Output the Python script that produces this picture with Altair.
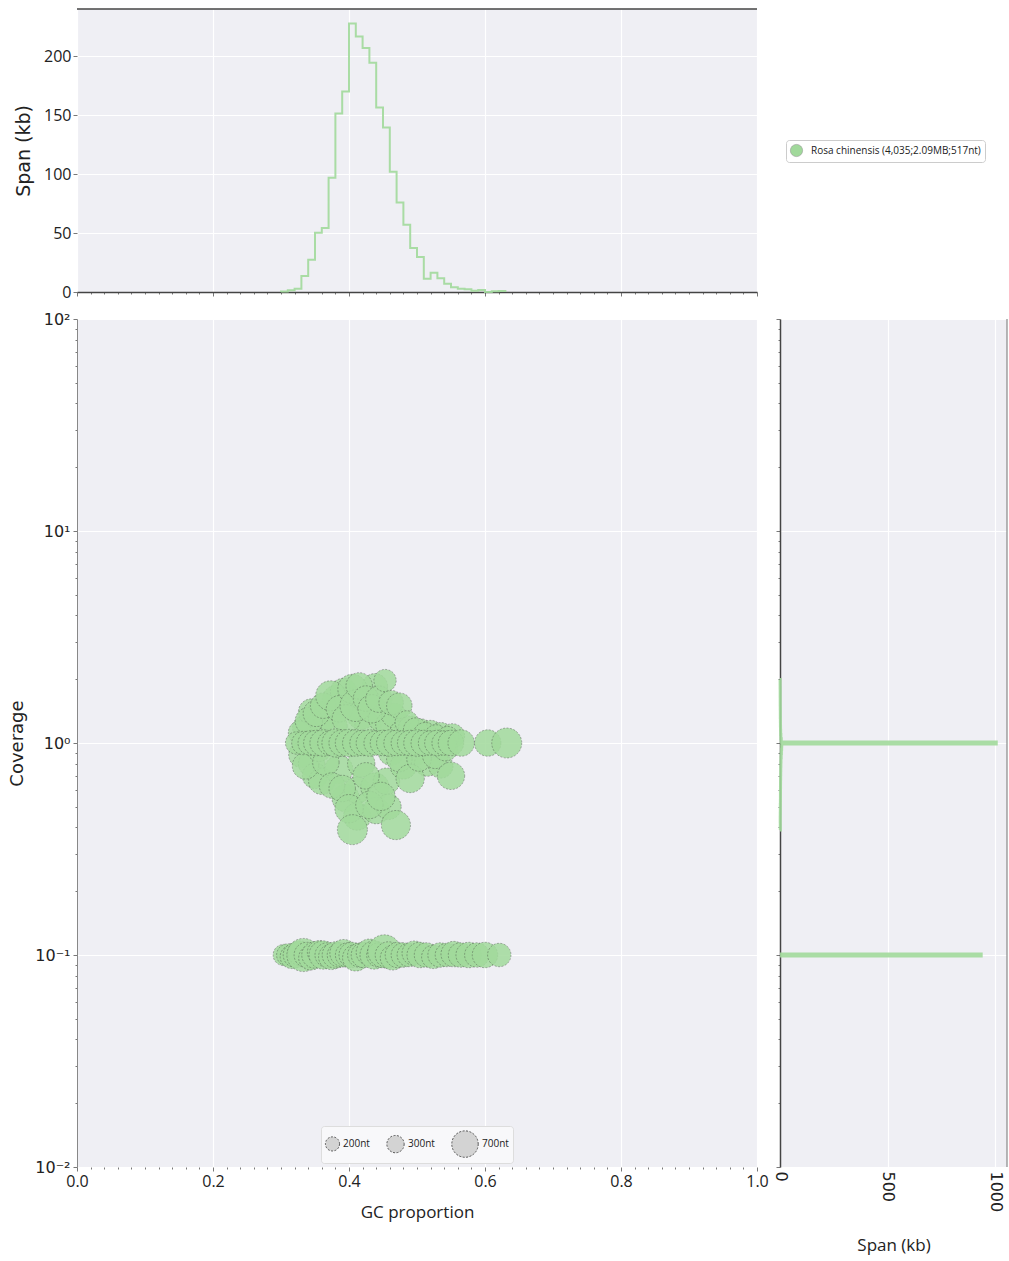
import altair as alt
import pandas as pd

# ---------------- data ----------------
# top histogram: span (kb) per GC bin (bin width 0.01)
gc_bin_lo = [0.30, 0.31, 0.32, 0.33, 0.34, 0.35, 0.36, 0.37, 0.38, 0.39,
             0.40, 0.41, 0.42, 0.43, 0.44, 0.45, 0.46, 0.47, 0.48, 0.49,
             0.50, 0.51, 0.52, 0.53, 0.54, 0.55, 0.56, 0.57, 0.58, 0.59,
             0.60, 0.61, 0.62]
gc_span_kb = [0.5, 1.4, 2.8, 13.6, 27.4, 50.3, 54.2, 96.9, 151.4, 170.0,
              227.7, 216.7, 207.0, 194.4, 156.5, 139.6, 102.0, 76.0, 57.0, 37.3,
              29.7, 11.3, 16.4, 11.6, 7.1, 4.0, 2.8, 2.3, 1.1, 1.7,
              0.0, 0.6, 0.8]

# right histogram: span (kb) per log10(coverage) bin
cov_bin_log_lo = [-1.005, -0.41, -0.39, -0.37, -0.35, -0.33, -0.31, -0.29, -0.27, -0.25,
                  -0.23, -0.21, -0.19, -0.17, -0.15, -0.13, -0.11, -0.09, -0.07, -0.05,
                  -0.03, -0.015, -0.005, 0.005, 0.02, 0.04, 0.06, 0.08, 0.10, 0.12,
                  0.14, 0.16, 0.18, 0.20, 0.22, 0.24, 0.26, 0.28]
cov_bin_log_hi = [-0.995, -0.39, -0.37, -0.35, -0.33, -0.31, -0.29, -0.27, -0.25, -0.23,
                  -0.21, -0.19, -0.17, -0.15, -0.13, -0.11, -0.09, -0.07, -0.05, -0.03,
                  -0.015, -0.005, 0.005, 0.02, 0.04, 0.06, 0.08, 0.10, 0.12, 0.14,
                  0.16, 0.18, 0.20, 0.22, 0.24, 0.26, 0.28, 0.30]
cov_span_kb = [935.0, 1.5, 1.2, 1.0, 1.2, 1.5, 1.4, 1.8, 2.0, 2.0,
               2.2, 2.5, 2.6, 3.0, 3.2, 3.5, 4.0, 4.5, 5.5, 6.5,
               7.5, 8.0, 1005.0, 6.0, 4.0, 3.0, 2.5, 2.0, 1.8, 1.5,
               1.5, 1.2, 1.0, 1.0, 0.8, 0.8, 0.6, 0.5]

# blob scatter: contigs (GC, coverage, length nt)
contig_gc = [
    # coverage ~0.1 band
    0.304, 0.310, 0.316, 0.322, 0.328, 0.333, 0.338, 0.344, 0.350, 0.356,
    0.362, 0.368, 0.374, 0.380, 0.386, 0.392, 0.398, 0.404, 0.410, 0.416,
    0.422, 0.430, 0.437, 0.444, 0.452, 0.458, 0.464, 0.472, 0.480, 0.488,
    0.496, 0.504, 0.514, 0.524, 0.534, 0.544, 0.554, 0.564, 0.576, 0.588,
    0.600, 0.621,
    # coverage ~1 cluster, upper part
    0.335, 0.345, 0.356, 0.368, 0.378, 0.382, 0.392, 0.400, 0.418, 0.428,
    0.438, 0.448, 0.458, 0.466, 0.478, 0.490, 0.505, 0.520, 0.535, 0.552,
    0.328, 0.341, 0.352, 0.362, 0.373, 0.386, 0.396, 0.405, 0.410, 0.415,
    0.425, 0.434, 0.444, 0.453, 0.462, 0.474, 0.485, 0.498, 0.512, 0.528,
    0.545,
    # lower part
    0.330, 0.345, 0.350, 0.360, 0.385, 0.395, 0.412, 0.418, 0.438, 0.455,
    0.462, 0.480, 0.500, 0.515, 0.535, 0.412, 0.440, 0.458,
    0.336, 0.356, 0.366, 0.375, 0.390, 0.400, 0.405, 0.425, 0.430, 0.447,
    0.469, 0.474, 0.490, 0.503, 0.527, 0.542, 0.550,
    # main row at coverage 1
    0.323, 0.333, 0.343, 0.352, 0.362, 0.372, 0.381, 0.390, 0.400, 0.410,
    0.420, 0.430, 0.440, 0.450, 0.460, 0.470, 0.480, 0.490, 0.500, 0.510,
    0.520, 0.530, 0.540, 0.550, 0.565, 0.604, 0.632,
]
contig_cov = [
    0.100, 0.100, 0.098, 0.100, 0.102, 0.100, 0.100, 0.097, 0.100, 0.103,
    0.100, 0.100, 0.098, 0.100, 0.100, 0.102, 0.100, 0.100, 0.097, 0.100,
    0.100, 0.103, 0.100, 0.100, 0.104, 0.100, 0.097, 0.100, 0.100, 0.100,
    0.102, 0.100, 0.100, 0.098, 0.100, 0.100, 0.101, 0.100, 0.100, 0.100,
    0.100, 0.100,
    1.18, 1.40, 1.22, 1.35, 1.20, 1.60, 1.75, 1.55, 1.35, 1.20,
    1.85, 1.30, 1.22, 1.35, 1.12, 1.18, 1.14, 1.12, 1.10, 1.08,
    1.12, 1.27, 1.38, 1.50, 1.67, 1.45, 1.30, 1.80, 1.50, 1.86,
    1.62, 1.45, 1.61, 1.97, 1.55, 1.50, 1.25, 1.15, 1.10, 1.08,
    1.06,
    0.88, 0.80, 0.70, 0.66, 0.75, 0.55, 0.60, 0.80, 0.62, 0.66,
    0.90, 0.78, 0.90, 0.80, 0.78, 0.45, 0.48, 0.50,
    0.78, 0.94, 0.81, 0.63, 0.61, 0.49, 0.39, 0.70, 0.51, 0.56,
    0.41, 0.84, 0.68, 0.84, 0.87, 0.94, 0.70,
    1.0, 1.0, 1.0, 1.0, 1.0, 1.0, 1.0, 1.0, 1.0, 1.0,
    1.0, 1.0, 1.0, 1.0, 1.0, 1.0, 1.0, 1.0, 1.0, 1.0,
    1.0, 1.0, 1.0, 1.0, 1.0, 1.0, 1.0,
]
contig_len = [
    450, 500, 550, 650, 600, 1100, 650, 600, 700, 550,
    800, 600, 650, 700, 600, 750, 600, 650, 700, 600,
    650, 700, 800, 600, 1100, 700, 600, 650, 600, 550,
    600, 650, 600, 550, 600, 550, 650, 600, 650, 600,
    650, 550,
    600, 700, 650, 800, 700, 850, 700, 900, 800, 700,
    650, 700, 650, 600, 600, 550, 600, 600, 550, 600,
    550, 750, 700, 650, 900, 700, 800, 850, 1000, 700,
    650, 800, 700, 500, 600, 650, 550, 600, 550, 500,
    500,
    650, 700, 650, 700, 800, 750, 700, 750, 800, 700,
    650, 700, 600, 650, 600, 750, 700, 650,
    700, 650, 700, 650, 700, 800, 900, 700, 750, 800,
    850, 650, 800, 600, 650, 600, 750,
    500, 550, 600, 650, 700, 600, 800, 700, 750, 700,
    650, 700, 600, 650, 700, 650, 600, 650, 700, 650,
    600, 650, 600, 650, 700, 700, 900,
]

species_label = "Rosa chinensis (4,035;2.09MB;517nt)"
size_legend_values = [200, 300, 700]
gc_major = [0.0, 0.2, 0.4, 0.6, 0.8, 1.0]
cov_major = [0.01, 0.1, 1, 10, 100]
top_span_ticks = [0, 50, 100, 150, 200]
right_span_ticks = [0, 500, 1000]

# ---------------- style ----------------
GREEN = "#a1d99b"
BG = "#efeff4"
DARK = "#444444"
FONT = "DejaVu Sans"
FONT2 = "Open Sans"

gc_ticks = [round(i * 0.02, 2) for i in range(51)]
cov_ticks = sorted(set(cov_major + [round(m * 10 ** e, 4) for e in (-2, -1, 0, 1) for m in range(2, 10)]))
is_gc_major = "abs(datum.value*5 - round(datum.value*5)) < 0.001"
lg = "(log(datum.value)/LN10)"
is_cov_major = f"abs({lg} - round({lg})) < 0.001"
e = f"round({lg})"
cov_label_expr = (f"{is_cov_major} ? ({e} == 2 ? '10²' : {e} == 1 ? '10¹' : {e} == 0 ? '10⁰' : "
                  f"{e} == -1 ? '10⁻¹' : '10⁻²') : ''")

# ---------------- derived tables ----------------
BIN_W = 0.01
top_rows = [(gc_bin_lo[0], 0.0)]
for lo, v in zip(gc_bin_lo, gc_span_kb):
    top_rows += [(lo, v), (lo + BIN_W, v)]
top_rows.append((gc_bin_lo[-1] + BIN_W, 0.0))
top_df = pd.DataFrame(top_rows, columns=["gc", "span"])
top_df["i"] = range(len(top_df))

# step outline of the coverage histogram, one segment per run of adjacent bins
right_rows = []
prev_hi = None
seg = 0
for lo, hi, v in sorted(zip(cov_bin_log_lo, cov_bin_log_hi, cov_span_kb)):
    if prev_hi is None or abs(lo - prev_hi) > 1e-9:
        if prev_hi is not None:
            right_rows.append((0.0, 10 ** prev_hi, seg))
            seg += 1
        right_rows.append((0.0, 10 ** lo, seg))
    right_rows += [(v, 10 ** lo, seg), (v, 10 ** hi, seg)]
    prev_hi = hi
right_rows.append((0.0, 10 ** prev_hi, seg))
right_df = pd.DataFrame(right_rows, columns=["span", "cov", "seg"])
right_df["i"] = range(len(right_df))

blob_df = pd.DataFrame({"gc": contig_gc, "cov": contig_cov, "length": contig_len})
blob_df["species"] = species_label

# ---------------- axes ----------------
def gc_axis(labels, title):
    return alt.Axis(
        values=gc_ticks, labels=labels, labelExpr=f"{is_gc_major} ? format(datum.value, '.1f') : ''",
        labelOverlap=False, labelFlush=False, labelFont=FONT2, labelFontSize=16, labelPadding=2,
        title=title, titleFont=FONT2, titleFontSize=17, titleFontWeight="normal", titlePadding=15,
        grid=True, gridColor="white", gridWidth=1.2,
        gridOpacity={"condition": {"test": is_gc_major, "value": 1}, "value": 0},
        tickSize={"condition": {"test": is_gc_major, "value": 4}, "value": 2},
        tickColor="#555", tickWidth=0.8, domain=False,
    )

def cov_axis(labels, title):
    return alt.Axis(
        values=cov_ticks, labels=labels, labelExpr=cov_label_expr, labelOverlap=False,
        labelFont=FONT, labelFontSize=16, labelPadding=3, labelFlush=False,
        title=title, titleFont=FONT, titleFontSize=18, titleFontWeight="normal", titlePadding=8,
        grid=True, gridColor="white", gridWidth=1.2,
        gridOpacity={"condition": {"test": is_cov_major, "value": 1}, "value": 0},
        tickSize={"condition": {"test": is_cov_major, "value": 4}, "value": 2},
        tickColor="#555", tickWidth=0.8,
    )

gc_scale = alt.Scale(domain=[0, 1], nice=False, zero=False)
cov_scale = alt.Scale(type="log", domain=[0.01, 100], nice=False)

# ---------------- top histogram ----------------
top_ax = gc_axis(False, None)
top_ax["domain"] = True
top_ax["domainColor"] = DARK
top_ax["domainWidth"] = 1.5
top_line = alt.Chart(top_df).mark_line(color=GREEN, strokeWidth=2, opacity=0.9).encode(
    x=alt.X("gc:Q", scale=gc_scale, axis=top_ax),
    y=alt.Y("span:Q", scale=alt.Scale(domain=[0, 240], nice=False),
            axis=alt.Axis(values=top_span_ticks, title="Span (kb)", titleFont=FONT, titleFontSize=19,
                          titleFontWeight="normal", titlePadding=10, labelFont=FONT2, labelFontSize=16,
                          grid=True, gridColor="white", gridWidth=1.2, domain=False,
                          tickSize=4, tickColor="#555", tickWidth=0.8)),
    order="i:Q",
)
top_border = alt.Chart(pd.DataFrame({"a": [0]})).mark_rule(color=DARK, strokeWidth=1.5).encode(
    y=alt.datum(240))
top = alt.layer(top_line, top_border).properties(width=680, height=283)

# ---------------- scatter ----------------
blobs = alt.Chart(blob_df).mark_circle(
    fillOpacity=0.85, stroke="#333333", strokeWidth=0.6, strokeDash=[2, 1.5], strokeOpacity=0.6
).encode(
    x=alt.X("gc:Q", scale=gc_scale, axis=gc_axis(True, "GC proportion")),
    y=alt.Y("cov:Q", scale=cov_scale, axis=cov_axis(True, "Coverage")),
    color=alt.Color("species:N", scale=alt.Scale(range=[GREEN]),
                    legend=alt.Legend(title=None, orient="none", legendX=709, legendY=131,
                                      fillColor="white", strokeColor="#cccccc", cornerRadius=3,
                                      padding=4, labelFont=FONT2, labelFontSize=10, labelColor="#222",
                                      labelLimit=400, labelOffset=8, symbolType="circle",
                                      symbolSize=150, symbolStrokeColor="#888",
                                      symbolStrokeWidth=0.5, symbolOpacity=1)),
    size=alt.Size("length:Q", scale=alt.Scale(domain=[0, 1500], range=[0, 1500]),
                  legend=alt.Legend(title=None, orient="none", legendX=244, legendY=1117,
                                    direction="horizontal", values=size_legend_values,
                                    labelExpr="datum.value + 'nt'", fillColor="#f8f8fa",
                                    strokeColor="#dddddd", cornerRadius=3, padding=4,
                                    symbolType="circle", symbolFillColor="#d3d3d3",
                                    symbolStrokeColor="#333333", symbolDash=[2, 1.5],
                                    symbolStrokeWidth=0.8, symbolOpacity=1,
                                    labelFont=FONT2, labelFontSize=10, labelColor="#222",
                                    labelOffset=3, columnPadding=15)),
).properties(width=680, height=848)

# ---------------- right histogram ----------------
right_ax = cov_axis(False, None)
right_ax["domain"] = True
right_ax["domainColor"] = DARK
right_ax["domainWidth"] = 1.5
right_line = alt.Chart(right_df).mark_line(color=GREEN, strokeWidth=3, opacity=0.9).encode(
    x=alt.X("span:Q", scale=alt.Scale(domain=[0, 1055], nice=False),
            axis=alt.Axis(values=right_span_ticks, format="d", labelAngle=90, labelAlign="left",
                          labelBaseline="middle", labelFont=FONT, labelFontSize=16, labelPadding=4,
                          labelFlush=False, title="Span (kb)", titleFont=FONT2, titleFontSize=17,
                          titleFontWeight="normal", titlePadding=26, grid=True, gridColor="white",
                          gridWidth=1.2, domain=False, ticks=False)),
    y=alt.Y("cov:Q", scale=cov_scale, axis=right_ax),
    detail="seg:N",
    order="i:Q",
)
right_border = alt.Chart(pd.DataFrame({"a": [0]})).mark_rule(color="#888888", strokeWidth=1.2).encode(
    x=alt.datum(1055))
right = alt.layer(right_line, right_border).properties(width=227, height=848)

bottom = alt.hconcat(blobs, right, spacing=23, bounds="flush")
chart = alt.vconcat(top, bottom, spacing=27, bounds="flush").properties(
    padding={"left": 8, "top": 8, "right": 1, "bottom": 5}
).configure_view(stroke=None, fill=BG).configure_axis(
    labelColor="#222", titleColor="#222"
)

chart.save("out.html", embed_options={"renderer": "svg", "actions": False})
